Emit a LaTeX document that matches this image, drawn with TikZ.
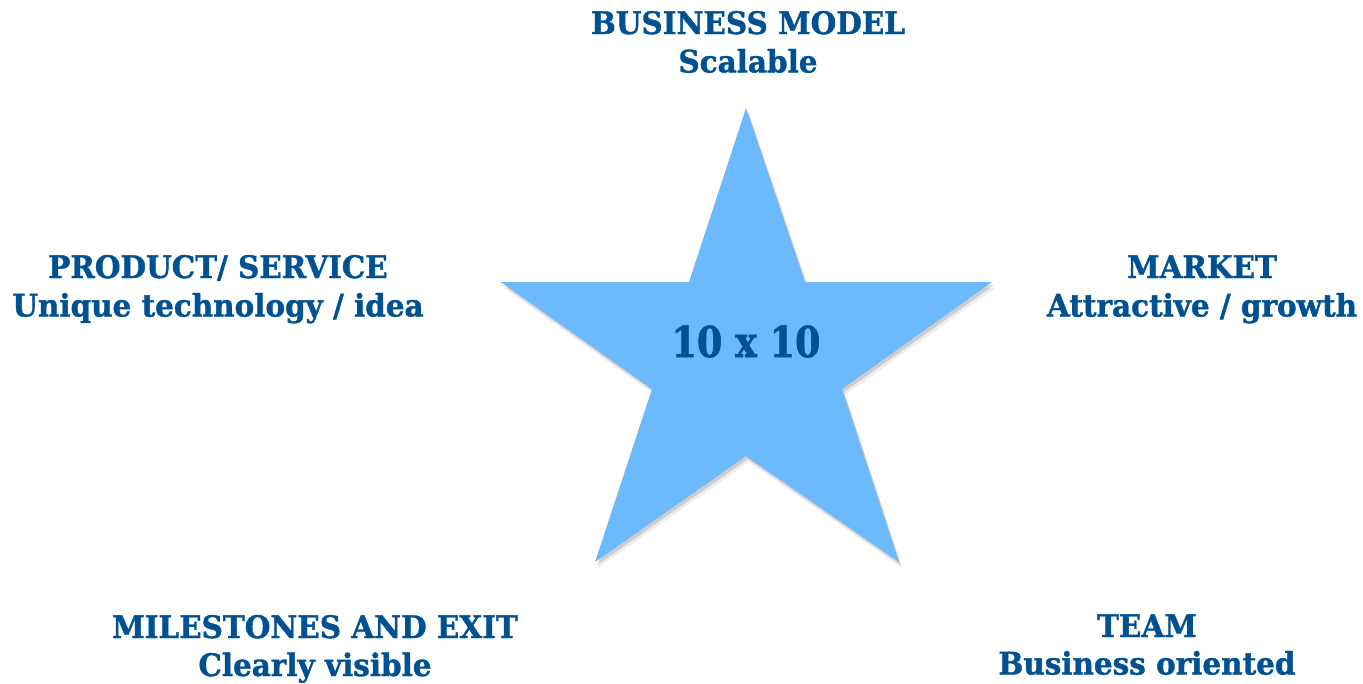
\documentclass[tikz,border=0pt]{standalone}
\usepackage{fontspec}
\setmainfont{DejaVu Serif}
\newfontfamily\lblfont[FakeStretch=0.95,BoldFeatures={FakeBold=1.2}]{DejaVu Serif}
\newfontfamily\bigfont[FakeStretch=0.86,BoldFeatures={FakeBold=1.3}]{DejaVu Serif}
\definecolor{txtblue}{RGB}{0,81,145}
\definecolor{starblue}{RGB}{108,186,253}
\tikzset{
  lbl/.style={anchor=base, inner sep=0pt, text=txtblue, font=\lblfont\bfseries\fontsize{31}{36}\selectfont},
  big/.style={anchor=base, inner sep=0pt, text=txtblue, font=\bigfont\bfseries\fontsize{42.5}{48}\selectfont},
}
\begin{document}
\begin{tikzpicture}[x=1pt,y=-1pt]
\useasboundingbox (0,0) rectangle (1363,683);
\def\starpath{(746,108) -- (805,282) -- (992,282) -- (842,389) -- (899,562) -- (746,456) -- (595,562) -- (652,389) -- (501,282) -- (689,282) -- cycle}
\fill[black, opacity=0.07] [shift={(3,6)}] \starpath;
\fill[black, opacity=0.14] [shift={(2,3)}] \starpath;
\fill[starblue] \starpath;
\node[big] (center) at (746,357) {10 x 10};
\node[lbl] (bm1) at (748,34) {BUSINESS MODEL};
\node[lbl] (bm2) at (748,72.5) {Scalable};
\node[lbl] (ps1) at (218,278) {PRODUCT/ SERVICE};
\node[lbl] (ps2) at (218,316.5) {Unique technology / idea};
\node[lbl] (mk1) at (1202,278) {MARKET};
\node[lbl] (mk2) at (1202,316.5) {Attractive / growth};
\node[lbl] (me1) at (315,638) {MILESTONES AND EXIT};
\node[lbl] (me2) at (315,676) {Clearly visible};
\node[lbl] (tm1) at (1147,637) {TEAM};
\node[lbl] (tm2) at (1147,674.5) {Business oriented};
\end{tikzpicture}
\end{document}
